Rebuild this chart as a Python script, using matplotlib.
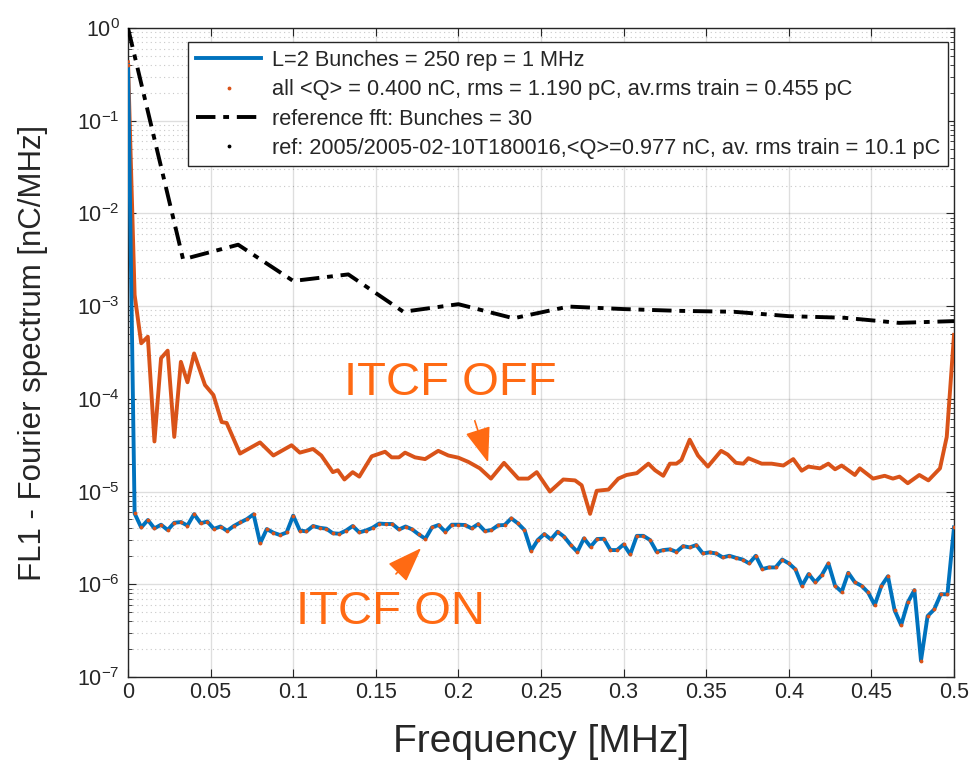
import numpy as np
import matplotlib
matplotlib.use("Agg")
from matplotlib import pyplot as plt
from matplotlib.ticker import LogLocator, NullFormatter, FixedLocator

plt.rcParams['font.family'] = ['Liberation Sans', 'DejaVu Sans']

# ---- data ----
# ITCF ON: fft of 250 bunches at 1 MHz -> 0.004 MHz bins
on_freq = np.arange(126) * 0.004
on_val = [0.40, 5.81e-6, 4.10e-6, 4.93e-6, 4.01e-6, 4.39e-6, 3.85e-6, 4.61e-6, 4.69e-6, 4.30e-6,
          5.71e-6, 4.56e-6, 4.75e-6, 3.96e-6, 4.20e-6, 3.77e-6, 4.25e-6, 4.65e-6, 5.05e-6, 5.69e-6,
          2.77e-6, 3.94e-6, 3.60e-6, 3.40e-6, 3.62e-6, 5.50e-6, 3.80e-6, 3.72e-6, 4.25e-6, 4.07e-6,
          3.98e-6, 3.55e-6, 3.51e-6, 3.80e-6, 4.25e-6, 3.63e-6, 3.80e-6, 4.07e-6, 4.52e-6, 4.47e-6,
          4.47e-6, 3.90e-6, 4.20e-6, 3.91e-6, 3.45e-6, 3.10e-6, 4.11e-6, 4.36e-6, 3.69e-6, 4.39e-6,
          4.39e-6, 4.36e-6, 4.01e-6, 4.46e-6, 3.75e-6, 3.85e-6, 4.32e-6, 4.36e-6, 5.14e-6, 4.54e-6,
          3.85e-6, 2.30e-6, 3.00e-6, 3.48e-6, 3.05e-6, 3.69e-6, 3.26e-6, 2.65e-6, 2.24e-6, 3.13e-6,
          2.54e-6, 3.08e-6, 3.10e-6, 2.34e-6, 2.34e-6, 2.69e-6, 2.10e-6, 3.33e-6, 3.33e-6, 3.00e-6,
          2.24e-6, 2.34e-6, 2.38e-6, 2.24e-6, 2.58e-6, 2.50e-6, 2.65e-6, 2.15e-6, 2.21e-6, 2.15e-6,
          1.95e-6, 2.03e-6, 1.93e-6, 1.85e-6, 1.68e-6, 2.03e-6, 1.46e-6, 1.52e-6, 1.52e-6, 1.85e-6,
          1.68e-6, 1.45e-6, 9.64e-7, 1.29e-6, 1.05e-6, 1.26e-6, 1.68e-6, 9.64e-7, 8.30e-7, 1.33e-6,
          1.05e-6, 9.64e-7, 8.17e-7, 5.97e-7, 9.57e-7, 1.22e-6, 5.27e-7, 3.63e-7, 6.37e-7, 8.65e-7,
          1.50e-7, 4.54e-7, 5.36e-7, 7.83e-7, 7.78e-7, 4.11e-6]

# ITCF OFF (kinks of the orange curve)
off_freq = [0, 0.004, 0.008, 0.012, 0.016, 0.020, 0.024, 0.028, 0.032, 0.036,
            0.040, 0.0466, 0.0517, 0.0567, 0.0597, 0.0678, 0.0799, 0.088, 0.099, 0.104,
            0.112, 0.117, 0.124, 0.127, 0.131, 0.136, 0.140, 0.1475, 0.1556, 0.1596,
            0.164, 0.1677, 0.1737, 0.1798, 0.1878, 0.1939, 0.2, 0.206, 0.213, 0.2197,
            0.2276, 0.2363, 0.2423, 0.2474, 0.2554, 0.2635, 0.2706, 0.2746, 0.2797, 0.2837,
            0.2908, 0.2968, 0.3018, 0.308, 0.315, 0.319, 0.324, 0.328, 0.332, 0.335,
            0.340, 0.345, 0.351, 0.359, 0.363, 0.368, 0.3725, 0.3755, 0.3836, 0.3896,
            0.3967, 0.4027, 0.4078, 0.4118, 0.4189, 0.4239, 0.428, 0.432, 0.440, 0.443,
            0.451, 0.458, 0.463, 0.467, 0.472, 0.479, 0.4845, 0.4915, 0.4956, 0.5]
off_val = [0.427, 1.32e-3, 3.98e-4, 4.68e-4, 3.47e-5, 2.75e-4, 3.31e-4, 3.89e-5, 2.51e-4, 1.51e-4,
           3.09e-4, 1.41e-4, 1.10e-4, 5.62e-5, 5.50e-5, 2.57e-5, 3.39e-5, 2.45e-5, 3.16e-5, 2.63e-5,
           2.88e-5, 2.45e-5, 1.62e-5, 1.70e-5, 1.35e-5, 1.62e-5, 1.45e-5, 2.40e-5, 2.69e-5, 2.34e-5,
           2.34e-5, 2.63e-5, 2.34e-5, 2.24e-5, 2.75e-5, 2.45e-5, 2.32e-5, 2.09e-5, 1.78e-5, 1.38e-5,
           2.04e-5, 1.38e-5, 1.38e-5, 1.62e-5, 1.00e-5, 1.35e-5, 1.32e-5, 1.17e-5, 5.75e-6, 1.02e-5,
           1.05e-5, 1.38e-5, 1.51e-5, 1.58e-5, 2.00e-5, 1.70e-5, 1.48e-5, 2.00e-5, 2.00e-5, 2.19e-5,
           3.63e-5, 2.45e-5, 1.86e-5, 2.75e-5, 2.51e-5, 2.04e-5, 2.00e-5, 2.29e-5, 2.00e-5, 2.00e-5,
           1.91e-5, 2.24e-5, 1.68e-5, 1.86e-5, 1.78e-5, 2.00e-5, 1.74e-5, 1.91e-5, 1.51e-5, 1.78e-5,
           1.38e-5, 1.48e-5, 1.38e-5, 1.45e-5, 1.23e-5, 1.51e-5, 1.32e-5, 1.78e-5, 3.89e-5, 4.90e-4]

# reference fft, 30 bunches
ref_freq = np.arange(16) / 30.0
ref_val = [1.0, 3.2e-3, 4.6e-3, 1.87e-3, 2.2e-3, 8.7e-4, 1.05e-3, 7.4e-4,
           9.9e-4, 9.3e-4, 8.9e-4, 8.7e-4, 7.8e-4, 7.5e-4, 6.6e-4, 6.9e-4]

xticks = [0, 0.05, 0.1, 0.15, 0.2, 0.25, 0.3, 0.35, 0.4, 0.45, 0.5]
xtick_labels = ['0', '0.05', '0.1', '0.15', '0.2', '0.25', '0.3', '0.35', '0.4', '0.45', '0.5']

leg_labels = ['L=2 Bunches = 250 rep = 1 MHz',
              'all <Q> = 0.400 nC, rms = 1.190 pC, av.rms train = 0.455 pC',
              'reference fft: Bunches = 30',
              'ref: 2005/2005-02-10T180016,<Q>=0.977 nC, av. rms train = 10.1 pC']

BLUE = '#0072BD'
ORANGE = '#D95319'
ANNOT = '#FF6A13'
DARK = '#262626'

fig = plt.figure(figsize=(9.72, 7.66), dpi=100)
ax = fig.add_axes([0.1317, 0.1162, 0.8498, 0.8472])

dd = (5, 2, 1.5, 2)
ax.plot(ref_freq, ref_val, color='k', ls='-.', lw=2.8, dashes=dd, zorder=3)
ax.plot(off_freq, off_val, color=ORANGE, lw=2.8, zorder=3)
l1, = ax.plot(on_freq, on_val, color=BLUE, lw=2.8, zorder=4)
l2, = ax.plot(on_freq, on_val, ls='none', marker='.', ms=3.5, color=ORANGE, zorder=5)
l3, = ax.plot([], [], color='k', ls='-.', lw=2.8, dashes=dd)
l4, = ax.plot([], [], ls='none', marker='.', ms=3.5, color='k')

ax.set_yscale('log')
ax.set_xlim(0, 0.5)
ax.set_ylim(1e-7, 1)
ax.xaxis.set_major_locator(FixedLocator(xticks))
ax.set_xticklabels(xtick_labels)
ax.yaxis.set_major_locator(LogLocator(base=10, numticks=20))
ax.yaxis.set_minor_locator(LogLocator(base=10, subs=np.arange(2, 10), numticks=20))
ax.yaxis.set_minor_formatter(NullFormatter())

ax.grid(True, which='major', color=DARK, alpha=0.15, lw=1)
ax.grid(True, which='minor', axis='y', color=DARK, alpha=0.25, lw=0.8, ls=(0, (1, 3)))
ax.set_axisbelow(True)

ax.tick_params(which='both', direction='in', top=True, right=True, colors=DARK, labelsize=15.5)
ax.tick_params(which='major', length=6)
ax.tick_params(which='minor', length=3)
ax.tick_params(axis='y', which='major', pad=6)
for s in ax.spines.values():
    s.set_color(DARK)
    s.set_linewidth(1.0)

ax.set_xlabel('Frequency [MHz]', fontsize=28, color=DARK, labelpad=15)
ax.set_ylabel('FL1 - Fourier spectrum [nC/MHz]', fontsize=22.5, color=DARK)
ax.yaxis.set_label_coords(-0.097, 0.5)

leg = ax.legend([l1, l2, l3, l4], leg_labels, loc='upper right', bbox_to_anchor=(0.993, 0.978),
                borderaxespad=0, fontsize=15.7, handlelength=3.0, handletextpad=0.5, borderpad=0.35,
                labelspacing=0.38, fancybox=False, framealpha=1, edgecolor=DARK)
leg.get_frame().set_linewidth(1.0)
for t in leg.get_texts():
    t.set_color(DARK)

# annotations
ax.text(0.1949, 1.48e-4, 'ITCF OFF', fontsize=34, color=ANNOT, ha='center', va='center')
ax.text(0.1586, 5.0e-7, 'ITCF ON', fontsize=34, color=ANNOT, ha='center', va='center')
ax.annotate('', xy=(0.2185, 1.93e-5), xytext=(0.2094, 6.2e-5),
            arrowprops=dict(arrowstyle='-|>,head_length=2.2,head_width=0.8', color=ANNOT, lw=1.2))
ax.annotate('', xy=(0.1786, 2.58e-6), xytext=(0.161, 1.23e-6),
            arrowprops=dict(arrowstyle='-|>,head_length=2.2,head_width=0.8', color=ANNOT, lw=1.2))

fig.savefig('out.png', dpi=100)
